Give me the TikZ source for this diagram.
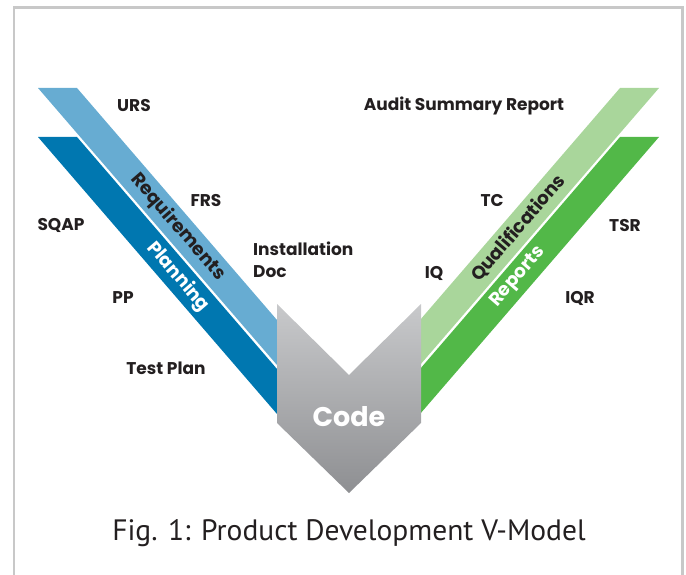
\documentclass[tikz,border=0pt]{standalone}
\usepackage{fontspec}
\setmainfont{Poppins}
\newfontfamily\capfont{PT Sans}
\usetikzlibrary{positioning}

\definecolor{reqblue}{HTML}{67ACD2}
\definecolor{planblue}{HTML}{0077B0}
\definecolor{qualgreen}{HTML}{A9D69B}
\definecolor{repgreen}{HTML}{52B848}
\definecolor{framegray}{HTML}{C8C8C8}
\definecolor{inkgray}{HTML}{231F20}
\definecolor{codetop}{HTML}{C8C9CB}
\definecolor{codebot}{HTML}{8E8F92}

\begin{document}
\begin{tikzpicture}
	[x=1pt, y=-1pt,
	 lbl/.style={font=\bfseries\fontsize{17}{22}\selectfont, text=inkgray, inner sep=0pt},
	 bandlbl/.style={font=\bfseries\fontsize{18.5}{20}\selectfont, inner sep=0pt}]
   \useasboundingbox (0,0) rectangle (686,575);
   \draw[framegray, line width=2.7pt] (14,580) -- (14,7.3) -- (682.5,7.3) -- (682.5,580);

   % left side
   \fill[reqblue]  (38,88)  -- (77,88)  -- (277,320) -- (277,365) -- cycle;
   \fill[planblue] (38,137) -- (77,137) -- (277,369) -- (277,414) -- cycle;
   % right side
   \fill[qualgreen] (659,88)  -- (620,88)  -- (420,320) -- (420,365) -- cycle;
   \fill[repgreen]  (659,137) -- (620,137) -- (420,369) -- (420,414) -- cycle;
   % code chevron
   \shade[top color=codetop, bottom color=codebot]
     (277,304) -- (349,375) -- (421,304) -- (421,423) -- (349,493) -- (277,423) -- cycle;

   \node[font=\bfseries\fontsize{27}{30}\selectfont, text=white] (code) at (349,417) {Code};

   \node[bandlbl, text=inkgray, rotate=-49.2] (req)  at (178,227) {Requirements};
   \node[bandlbl, text=white,   rotate=-49.2] (plan) at (178,277) {Planning};
   \node[bandlbl, text=inkgray, rotate=49.2]  (qual) at (518,228) {Qualifications};
   \node[bandlbl, text=white,   rotate=49.2]  (rep)  at (518,277) {Reports};

   \node[lbl] (urs)   at (134,106) {URS};
   \node[lbl] (asr)   at (464,106) {Audit Summary Report};
   \node[lbl] (frs)   at (206,201) {FRS};
   \node[lbl] (sqap)  at (61,225)  {SQAP};
   \node[lbl, anchor=west, align=left] (inst) at (253,260) {Installation\\Doc};
   \node[lbl] (pp)    at (123,298) {PP};
   \node[lbl] (tplan) at (166,368) {Test Plan};
   \node[lbl] (tc)    at (492,201) {TC};
   \node[lbl] (tsr)   at (625,226) {TSR};
   \node[lbl] (iq)    at (434,273) {IQ};
   \node[lbl] (iqr)   at (580,298) {IQR};

   \node[font=\capfont\fontsize{29.5}{31}\selectfont, text=inkgray] (cap) at (349,533)
     {Fig. 1: Product Development V-Model};
\end{tikzpicture}
\end{document}
